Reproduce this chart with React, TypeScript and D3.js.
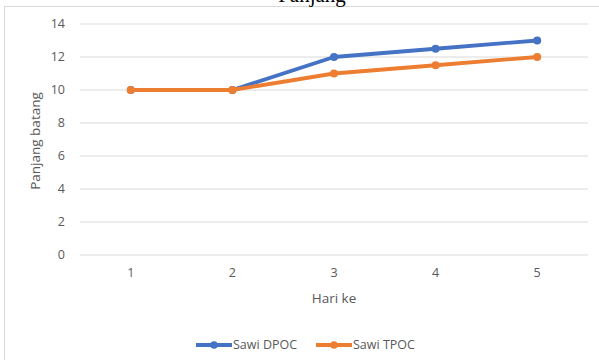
import React from "react";
import * as d3 from "d3";

const categories = ["1", "2", "3", "4", "5"];
const seriesNames = ["Sawi DPOC", "Sawi TPOC"];
const dpoc = [10, 10, 12, 12.5, 13];
const tpoc = [10, 10, 11, 11.5, 12];
const yTicks = [0, 2, 4, 6, 8, 10, 12, 14];
const colors = ["#4472C4", "#ED7D31"];

export default function App() {
  const W = 599, H = 360;
  const x = d3.scaleBand().domain(categories).range([80, 588]);
  const y = d3.scaleLinear().domain([0, 14]).range([255, 24]);
  const line = d3
    .line<number>()
    .x((_, i) => x(categories[i])! + x.bandwidth() / 2)
    .y((d) => y(d));
  const series = [dpoc, tpoc];
  const font = "'Open Sans', 'Noto Sans', sans-serif";
  const txt = "#595959";
  return (
    <svg
      width={W}
      height={H}
      style={{ position: "absolute", left: 0, top: 0, background: "#fff" }}
      fontFamily={font}
    >
      <rect x={0} y={0} width={W} height={H} fill="#fff" />
      <rect x={4.5} y={6.5} width={W + 5} height={H + 5} fill="none" stroke="#d9d9d9" strokeWidth={1} />
      <text x={312} y={1.5} textAnchor="middle" fontFamily="'Liberation Serif', 'DejaVu Serif', serif" fontSize={21} fill="#000">
        Panjang
      </text>
      {yTicks.map((t) => (
        <g key={t}>
          <line x1={80} x2={588} y1={y(t)} y2={y(t)} stroke="#d9d9d9" strokeWidth={1} />
          <text x={65} y={y(t)} dy="0.35em" textAnchor="end" fontSize={12.5} fill={txt}>
            {t}
          </text>
        </g>
      ))}
      {categories.map((c) => (
        <text key={c} x={x(c)! + x.bandwidth() / 2} y={277} textAnchor="middle" fontSize={12.5} fill={txt}>
          {c}
        </text>
      ))}
      <text x={334} y={303} textAnchor="middle" fontSize={13.5} fill={txt}>
        Hari ke
      </text>
      <text transform="translate(40,141) rotate(-90)" textAnchor="middle" fontSize={13.5} fill={txt}>
        Panjang batang
      </text>
      {series.map((s, si) => (
        <g key={si}>
          <path d={line(s)!} fill="none" stroke={colors[si]} strokeWidth={3.8} strokeLinejoin="round" strokeLinecap="round" />
          {s.map((v, i) => (
            <circle key={i} cx={x(categories[i])! + x.bandwidth() / 2} cy={y(v)} r={4} fill={colors[si]} />
          ))}
        </g>
      ))}
      {seriesNames.map((n, i) => {
        const lx = 196 + i * 120;
        return (
          <g key={n}>
            <line x1={lx} x2={lx + 36} y1={345} y2={345} stroke={colors[i]} strokeWidth={3.8} />
            <circle cx={lx + 18} cy={345} r={3.8} fill={colors[i]} />
            <text x={lx + 37} y={345} dy="0.35em" fontSize={12.5} fill={txt}>
              {n}
            </text>
          </g>
        );
      })}
    </svg>
  );
}
